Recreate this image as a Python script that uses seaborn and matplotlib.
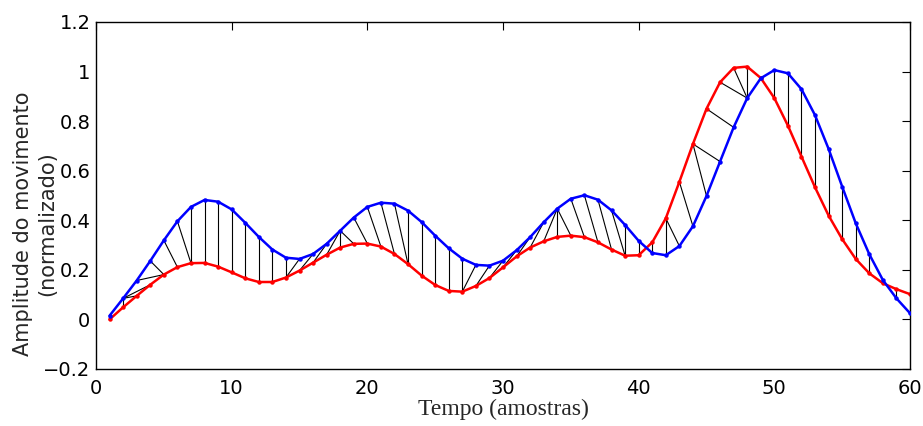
import numpy as np
import pandas as pd
import seaborn as sns
import matplotlib
matplotlib.use("Agg")
import matplotlib.pyplot as plt
from matplotlib.ticker import FuncFormatter

# ---- data ----
samples = list(range(1, 61))
blue_values = [0.015, 0.085, 0.157, 0.236, 0.319, 0.396, 0.454, 0.482, 0.475, 0.444,
               0.390, 0.333, 0.282, 0.249, 0.244, 0.264, 0.305, 0.358, 0.411, 0.454,
               0.471, 0.467, 0.439, 0.393, 0.338, 0.287, 0.245, 0.220, 0.217, 0.237,
               0.279, 0.332, 0.392, 0.447, 0.487, 0.501, 0.483, 0.440, 0.381, 0.317,
               0.268, 0.259, 0.296, 0.376, 0.498, 0.637, 0.775, 0.893, 0.973, 1.006,
               0.993, 0.929, 0.824, 0.688, 0.536, 0.388, 0.263, 0.159, 0.085, 0.025]
red_values = [0.000, 0.049, 0.095, 0.140, 0.181, 0.211, 0.227, 0.228, 0.213, 0.190,
              0.166, 0.151, 0.151, 0.169, 0.197, 0.229, 0.261, 0.290, 0.305, 0.306,
              0.294, 0.264, 0.223, 0.177, 0.139, 0.115, 0.112, 0.135, 0.167, 0.210,
              0.254, 0.290, 0.315, 0.333, 0.338, 0.332, 0.311, 0.282, 0.257, 0.259,
              0.311, 0.408, 0.555, 0.708, 0.850, 0.957, 1.015, 1.020, 0.974, 0.893,
              0.782, 0.657, 0.533, 0.419, 0.324, 0.244, 0.186, 0.146, 0.122, 0.102]

# warping path (1-based sample indices): blue sample -> red sample
path_blue = [1, 2, 2, 2, 3, 4, 5, 6, 7, 8, 9, 10, 11, 12, 13, 14, 15, 16, 17, 18, 18, 18,
             19, 20, 21, 22, 23, 24, 25, 26, 27, 28, 29, 30, 31, 32, 33, 34, 34, 34, 35,
             36, 37, 38, 39, 40, 41, 42, 43, 44, 45, 46, 47, 48, 48, 48] + list(range(49, 61))
path_red = [1, 2, 3, 4, 5, 5, 6, 7, 7, 8, 9, 10, 11, 12, 13, 14, 14, 15, 16, 17, 18, 19,
            20, 21, 22, 23, 23, 24, 25, 26, 27, 27, 28, 29, 30, 31, 32, 33, 34, 35, 36,
            37, 38, 39, 39, 40, 41, 42, 42, 43, 44, 44, 45, 46, 47, 48] + list(range(49, 61))

x_ticks = [0, 10, 20, 30, 40, 50, 60]
y_ticks = [-0.2, 0, 0.2, 0.4, 0.6, 0.8, 1.0, 1.2]
x_label = "Tempo (amostras)"
y_label = "Amplitude do movimento\n(normalizado)"

# ---- plot ----
sns.set_style("white")
plt.rcParams['font.family'] = ['DejaVu Sans']

fig = plt.figure(figsize=(9.23, 4.26), dpi=100)
ax = fig.add_axes([96 / 923, 1 - 369 / 426, (910 - 96) / 923, (369 - 22) / 426])

df_blue = pd.DataFrame({"t": samples, "v": blue_values})
df_red = pd.DataFrame({"t": samples, "v": red_values})

# connection lines
for b, r in zip(path_blue, path_red):
    ax.plot([samples[b - 1], samples[r - 1]], [blue_values[b - 1], red_values[r - 1]],
            color="black", lw=0.8, zorder=1)

sns.lineplot(data=df_blue, x="t", y="v", ax=ax, color="#0000ff", lw=1.8,
             marker="o", markersize=3.2, markeredgewidth=0, estimator=None, sort=False, zorder=3)
sns.lineplot(data=df_red, x="t", y="v", ax=ax, color="#ff0000", lw=1.8,
             marker="o", markersize=3.2, markeredgewidth=0, estimator=None, sort=False, zorder=2)

ax.set_xlim(0, 60)
ax.set_ylim(-0.2, 1.2)
ax.set_xticks(x_ticks)
ax.set_yticks(y_ticks)
ax.yaxis.set_major_formatter(FuncFormatter(lambda v, p: f"{v:g}".replace("-", "\u2212")))
ax.tick_params(direction="in", length=5.5, width=0.8, top=True, right=True,
               colors="black", labelsize=14)
ax.tick_params(axis="y", pad=4)
ax.tick_params(axis="x", pad=7)

for s in ax.spines.values():
    s.set_visible(True)
    s.set_color("black")
    s.set_linewidth(1.0)

ax.set_xlabel(x_label, family="Liberation Serif", fontsize=17)
ax.xaxis.set_label_coords(0.5, (369 - 399) / 347)
ax.set_ylabel(y_label, fontsize=15, linespacing=1.25)
ax.yaxis.set_label_coords((57 - 96) / 814, (369 - 224) / 347)

fig.savefig("out.png", dpi=100)
